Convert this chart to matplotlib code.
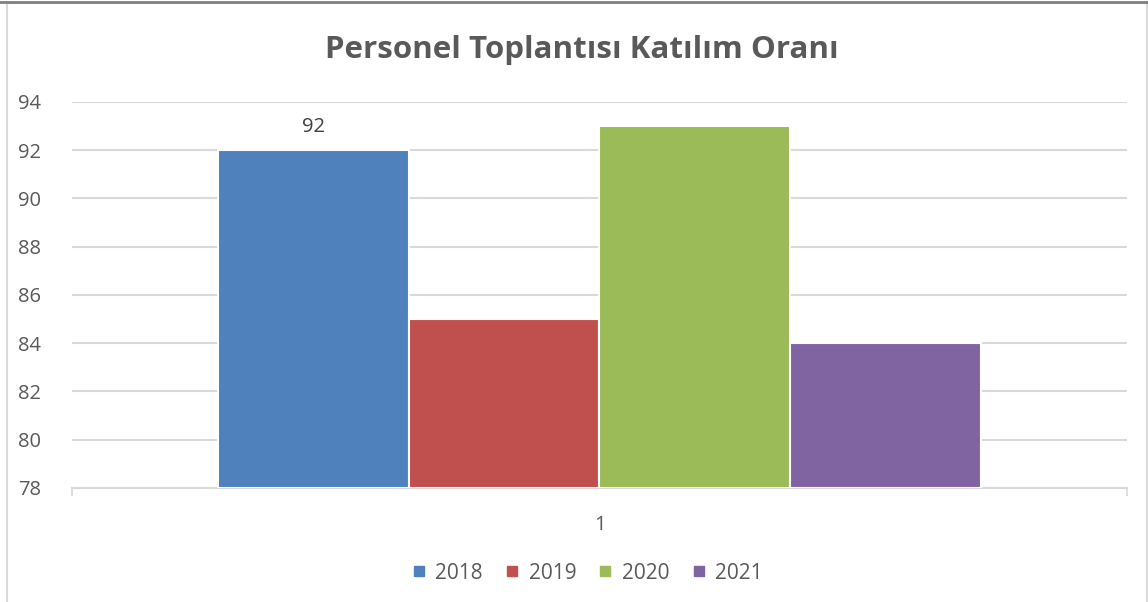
import matplotlib.pyplot as plt
from matplotlib.patches import Rectangle

years = ['2018', '2019', '2020', '2021']
values = [92, 85, 93, 84]
colors = ['#4f81bd', '#c0504d', '#9bbb59', '#8064a2']
yticks = [78, 80, 82, 84, 86, 88, 90, 92, 94]
category = '1'
title = 'Personel Toplantısı Katılım Oranı'

plt.rcParams['font.family'] = ['Open Sans', 'DejaVu Sans']
txt = '#595959'
grid = '#d9d9d9'

fig = plt.figure(figsize=(11.48, 6.02), dpi=100)
ax = fig.add_axes([0.0627, 0.1894, 0.919, 0.6412])

w = 0.181
offs = [-1.5 * w, -0.5 * w, 0.5 * w, 1.5 * w]
for off, v, c, yr in zip(offs, values, colors, years):
    ax.bar(off, v - 78, bottom=78, width=w, color=c, edgecolor='white',
           linewidth=1.5, label=yr, zorder=3)

# only the first series carries a data label
ax.text(offs[0], values[0] + 0.55, str(values[0]), ha='center', va='bottom',
        fontsize=14.5, color='#404040')

ax.set_xlim(-0.5, 0.5)
ax.set_ylim(78, 94)
ax.set_yticks(yticks)
ax.set_yticklabels([str(t) for t in yticks], fontsize=14.5, color=txt)
ax.tick_params(axis='y', length=0, pad=22)
ax.set_xticks([-0.5, 0.5])
ax.set_xticklabels(['', ''])
ax.tick_params(axis='x', length=6, width=1.2, color=grid)
ax.text(0, 76.9, category, ha='center', va='top', fontsize=14.5, color=txt)

ax.yaxis.grid(True, color=grid, linewidth=1.5, zorder=0)
ax.set_axisbelow(True)
for s in ['top', 'right', 'left']:
    ax.spines[s].set_visible(False)
ax.spines['bottom'].set_color(grid)
ax.spines['bottom'].set_linewidth(1.5)

fig.suptitle(title, x=0.507, y=0.942, fontsize=22.5, fontweight='bold', color=txt)

handles = [plt.Line2D([], [], marker='s', linestyle='', markersize=7.5,
                      markerfacecolor=c, markeredgecolor=c) for c in colors]
fig.legend(handles, years, loc='center', bbox_to_anchor=(0.511, 0.048), ncol=4,
           frameon=False, fontsize=15, handletextpad=0.4, columnspacing=1.0,
           labelcolor=txt, handlelength=0.8)

# chart frame
fig.patches.append(Rectangle((0.006, -0.01), 0.993, 1.005, transform=fig.transFigure,
                             fill=False, edgecolor='#d9d9d9', linewidth=1.5))
fig.lines.append(plt.Line2D([0, 1], [0.997, 0.997], transform=fig.transFigure,
                            color='#808080', linewidth=2))

fig.savefig('out.png', dpi=100)
